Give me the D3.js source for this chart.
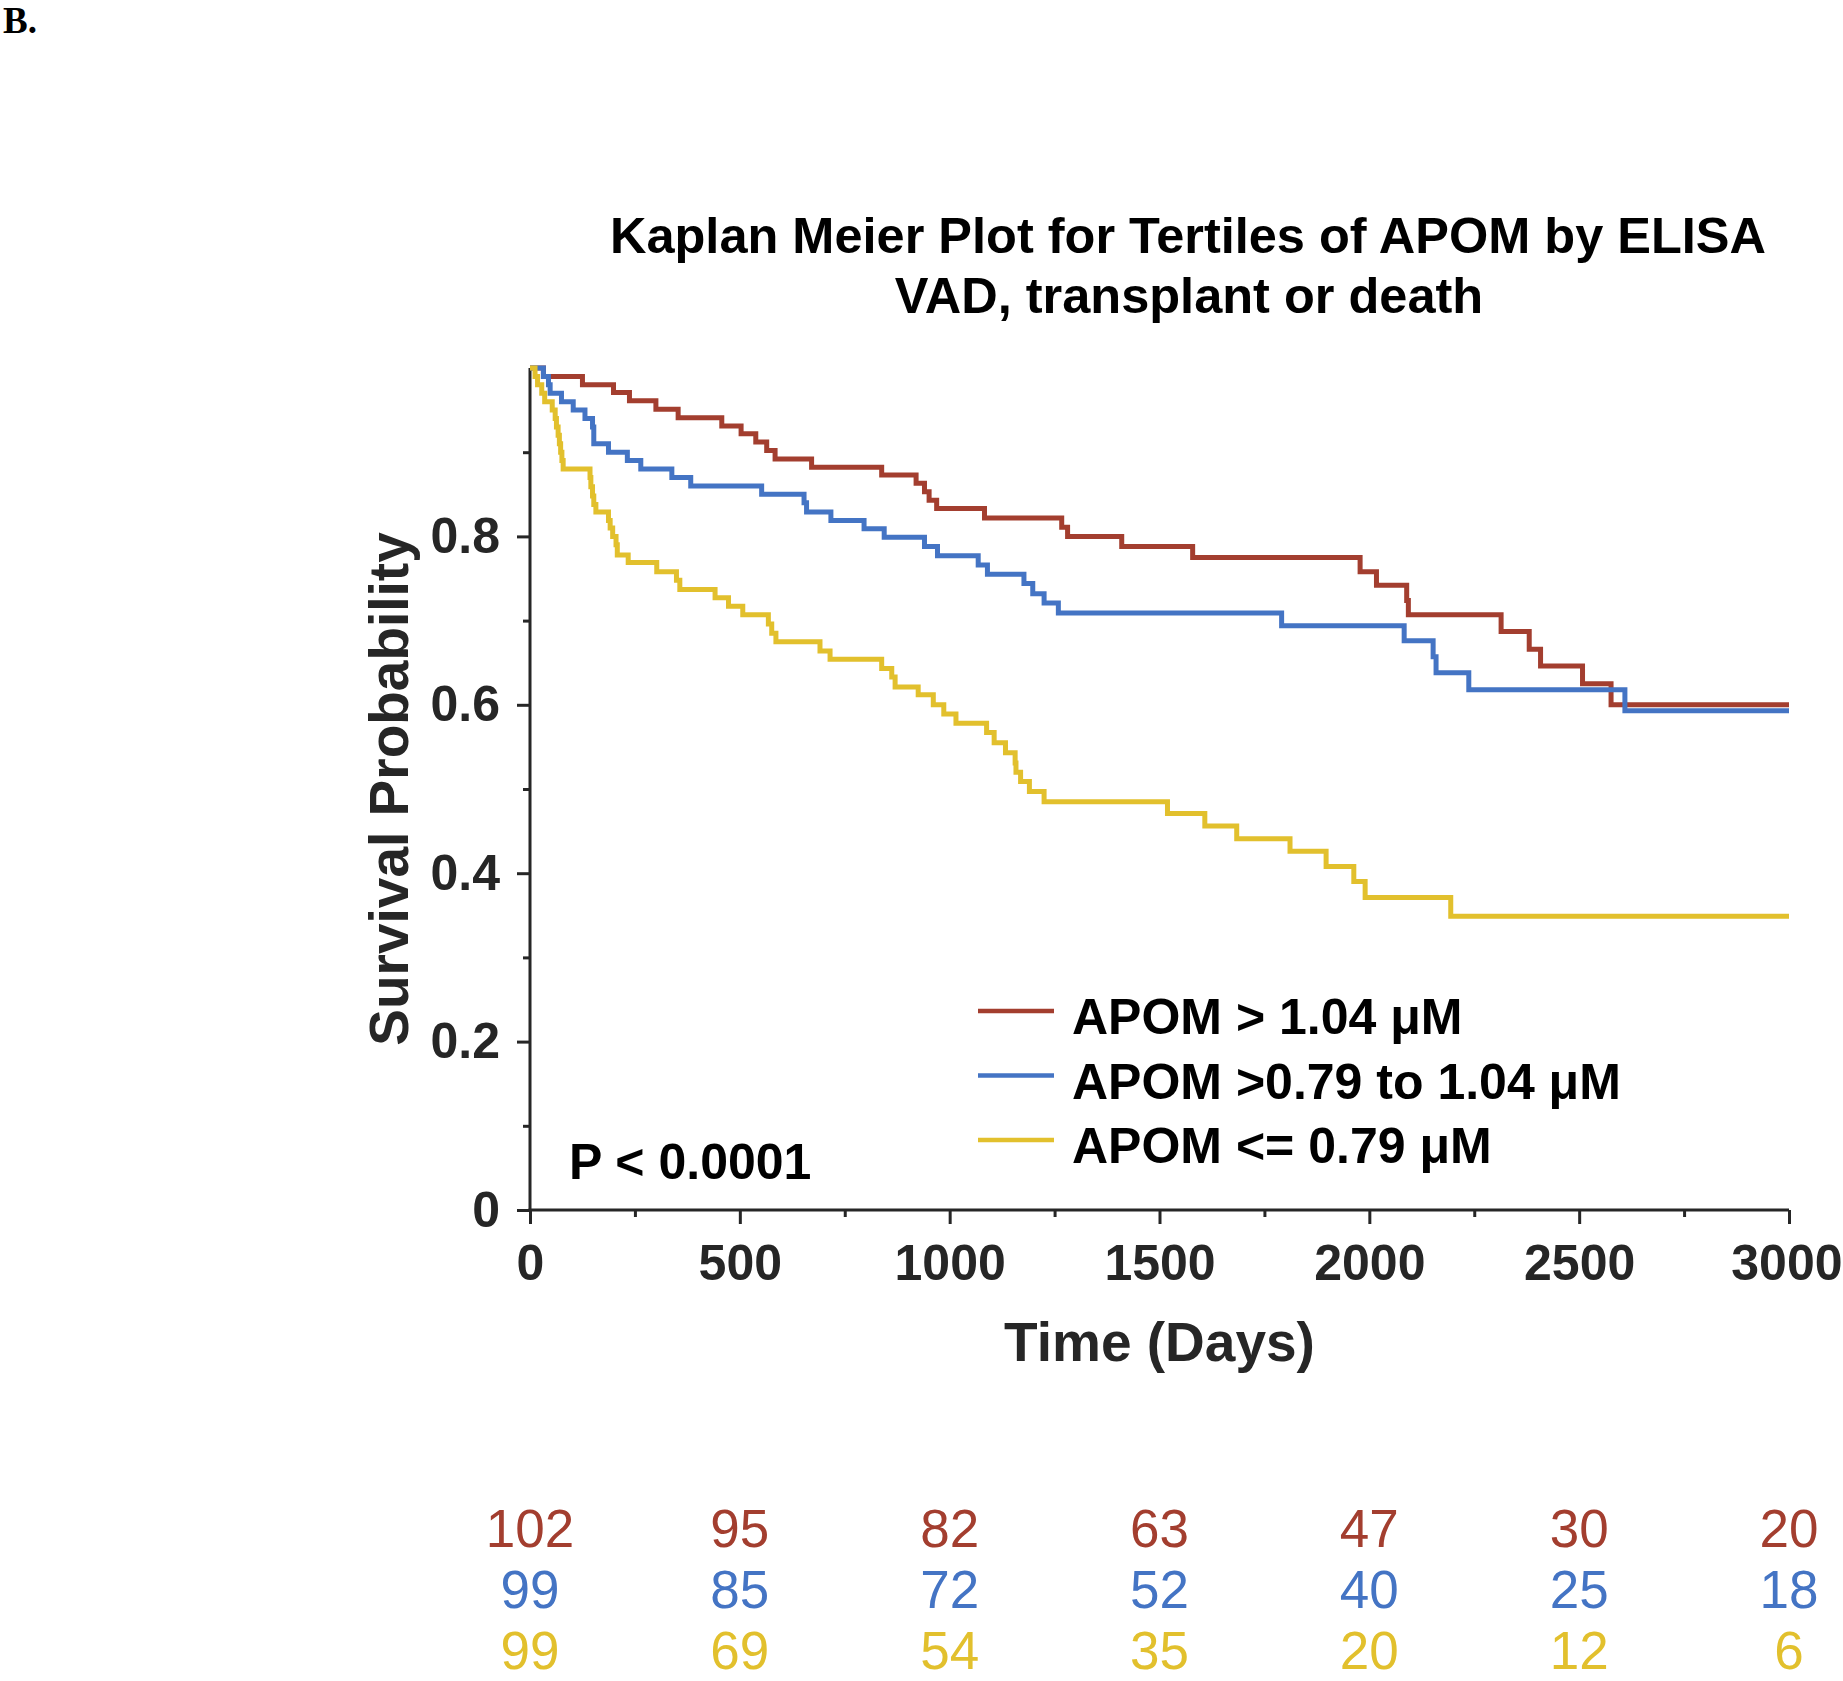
<!DOCTYPE html>
<html>
<head>
<meta charset="utf-8">
<script src="https://cdn.jsdelivr.net/npm/d3@7"></script>
<style>
  html, body { margin: 0; padding: 0; background: #fff; }
  svg { display: block; }
</style>
</head>
<body>
<script>
// ---------- DATA ----------
const xTickValues = [0, 500, 1000, 1500, 2000, 2500, 3000];
const xMinorTicks = [250, 750, 1250, 1750, 2250, 2750];
const yTickValues = [0, 0.2, 0.4, 0.6, 0.8];
const yMinorTicks = [0.1, 0.3, 0.5, 0.7, 0.9];
const yTickLabels = ["0", "0.2", "0.4", "0.6", "0.8"];

const seriesNames = ["APOM > 1.04 \u03BCM", "APOM >0.79 to 1.04 \u03BCM", "APOM <= 0.79 \u03BCM"];

// Kaplan-Meier steps: day of event, survival after event
const highDays = [0, 32, 125, 199, 237, 300, 353, 457, 503, 538, 564, 584, 671, 838, 920, 940, 951, 969,
  1083, 1267, 1281, 1410, 1579, 1978, 2017, 2089, 2093, 2314, 2381, 2408, 2508, 2576, 3000];
const highSurv = [1.0, 0.990, 0.980, 0.971, 0.961, 0.951, 0.941, 0.931, 0.922, 0.912, 0.902, 0.892, 0.882, 0.873, 0.863, 0.853, 0.843, 0.833,
  0.822, 0.811, 0.800, 0.788, 0.775, 0.758, 0.742, 0.724, 0.707, 0.687, 0.666, 0.646, 0.625, 0.600, 0.600];

const midDays = [0, 32, 44, 48, 75, 103, 131, 149, 152, 187, 232, 264, 338, 383, 552, 653, 659, 717, 796, 844,
  940, 971, 1068, 1090, 1177, 1198, 1225, 1259, 1791, 2083, 2152, 2159, 2237, 2609, 3000];
const midSurv = [1.0, 0.990, 0.980, 0.970, 0.960, 0.950, 0.940, 0.930, 0.910, 0.900, 0.890, 0.880, 0.870, 0.860, 0.850, 0.840, 0.829, 0.819, 0.809, 0.799,
  0.788, 0.777, 0.766, 0.755, 0.744, 0.732, 0.721, 0.709, 0.694, 0.676, 0.657, 0.638, 0.618, 0.593, 0.593];

const lowDays = [0, 12, 18, 28, 35, 53, 60, 63, 67, 70, 73, 76, 79, 143, 145, 149, 152, 157, 187, 191, 197, 205, 208,
  234, 302, 349, 357, 441, 473, 507, 568, 576, 586, 691, 715, 838, 862, 870, 925, 961, 986, 1015, 1088, 1106,
  1133, 1156, 1158, 1169, 1190, 1225, 1519, 1608, 1684, 1811, 1897, 1963, 1990, 2194, 3000];
const lowSurv = [1.0, 0.990, 0.980, 0.970, 0.960, 0.950, 0.940, 0.930, 0.920, 0.910, 0.900, 0.890, 0.880, 0.870, 0.859, 0.848, 0.838, 0.829, 0.819, 0.810, 0.800, 0.790, 0.778,
  0.769, 0.758, 0.748, 0.737, 0.727, 0.717, 0.707, 0.696, 0.685, 0.675, 0.664, 0.654, 0.643, 0.633, 0.621, 0.612, 0.600, 0.589, 0.578, 0.567, 0.555,
  0.543, 0.531, 0.520, 0.509, 0.497, 0.485, 0.471, 0.456, 0.441, 0.426, 0.408, 0.390, 0.371, 0.349, 0.349];

const atRiskHigh = [102, 95, 82, 63, 47, 30, 20];
const atRiskMid = [99, 85, 72, 52, 40, 25, 18];
const atRiskLow = [99, 69, 54, 35, 20, 12, 6];

const colors = ["#A33E2F", "#4474C4", "#E2C02D"];

// ---------- LAYOUT ----------
const W = 1843, H = 1681;
const svg = d3.select("body").append("svg").attr("width", W).attr("height", H);
const axisColor = "#262626";
const sans = "'Liberation Sans', Arial, Helvetica, sans-serif";

const x = d3.scaleLinear().domain([0, 3000]).range([530, 1789]);
const y = d3.scaleLinear().domain([0, 1]).range([1210, 368]);

// Panel letter
svg.append("text").attr("x", 3).attr("y", 33)
  .attr("font-family", "'Liberation Serif', 'Times New Roman', serif")
  .attr("font-weight", "bold").attr("font-size", 37).attr("fill", "#000").text("B.");

// Title
const title = svg.append("g").attr("font-family", sans).attr("font-weight", "bold")
  .attr("font-size", 50.5).attr("fill", "#000").attr("text-anchor", "middle");
title.append("text").attr("x", 1188).attr("y", 253).text("Kaplan Meier Plot for Tertiles of APOM by ELISA");
title.append("text").attr("x", 1189).attr("y", 313).text("VAD, transplant or death");

// Axes
function styleAxis(g) {
  g.selectAll("path.domain").remove();
  g.selectAll(".tick line").attr("stroke", axisColor).attr("stroke-width", 3);
  g.selectAll(".tick text").attr("fill", axisColor).attr("font-family", sans)
    .attr("font-weight", "bold").attr("font-size", 50);
}

const yAxis = svg.append("g").attr("transform", "translate(530,0)")
  .call(d3.axisLeft(y).tickValues(yTickValues).tickSize(13).tickPadding(17)
    .tickFormat((d, i) => yTickLabels[i]));
styleAxis(yAxis);

const yMinor = svg.append("g").attr("transform", "translate(530,0)")
  .call(d3.axisLeft(y).tickValues(yMinorTicks).tickSize(7).tickFormat(""));
styleAxis(yMinor);

const xAxis = svg.append("g").attr("transform", "translate(0,1210)")
  .call(d3.axisBottom(x).tickValues(xTickValues).tickSize(14).tickPadding(20)
    .tickFormat(d3.format("d")));
styleAxis(xAxis);
xAxis.selectAll(".tick text").attr("dy", "0.71em");
// keep the last label inside the page edge
xAxis.selectAll(".tick").filter(d => d === 3000).select("text")
  .attr("text-anchor", "end").attr("x", W - 1 - x(3000));

const xMinor = svg.append("g").attr("transform", "translate(0,1210)")
  .call(d3.axisBottom(x).tickValues(xMinorTicks).tickSize(7).tickFormat(""));
styleAxis(xMinor);

// axis lines
svg.append("line").attr("x1", x(0)).attr("x2", x(0)).attr("y1", y(1)).attr("y2", y(0) + 1.5)
  .attr("stroke", axisColor).attr("stroke-width", 3);
svg.append("line").attr("x1", x(0) - 1.5).attr("x2", x(3000)).attr("y1", y(0)).attr("y2", y(0))
  .attr("stroke", axisColor).attr("stroke-width", 3);

// Axis labels
svg.append("text").attr("transform", `translate(408,${(y(0) + y(1)) / 2}) rotate(-90)`)
  .attr("text-anchor", "middle").attr("font-family", sans).attr("font-weight", "bold")
  .attr("font-size", 55).attr("fill", axisColor).text("Survival Probability");
svg.append("text").attr("x", (x(0) + x(3000)) / 2).attr("y", 1361)
  .attr("text-anchor", "middle").attr("font-family", sans).attr("font-weight", "bold")
  .attr("font-size", 55).attr("fill", axisColor).text("Time (Days)");

// Curves
const line = d3.line().x(d => x(d[0])).y(d => y(d[1])).curve(d3.curveStepAfter);
const series = [
  d3.zip(highDays, highSurv),
  d3.zip(midDays, midSurv),
  d3.zip(lowDays, lowSurv)
];
series.forEach((s, i) => {
  svg.append("path").datum(s).attr("d", line).attr("fill", "none")
    .attr("stroke", colors[i]).attr("stroke-width", 5)
    .attr("stroke-linejoin", "miter").attr("stroke-linecap", "butt");
});

// Legend
const legend = svg.append("g");
seriesNames.forEach((name, i) => {
  const ly = 1011 + i * 64.5;
  legend.append("line").attr("x1", 978).attr("x2", 1054).attr("y1", ly).attr("y2", ly)
    .attr("stroke", colors[i]).attr("stroke-width", 4.5);
  legend.append("text").attr("x", 1072).attr("y", ly + 23)
    .attr("font-family", sans).attr("font-weight", "bold").attr("font-size", 50)
    .attr("fill", "#000").text(name);
});

// P value
svg.append("text").attr("x", 569).attr("y", 1179)
  .attr("font-family", sans).attr("font-weight", "bold").attr("font-size", 50)
  .attr("fill", "#000").text("P < 0.0001");

// Numbers at risk
const riskRows = [atRiskHigh, atRiskMid, atRiskLow];
riskRows.forEach((row, r) => {
  svg.append("g").selectAll("text").data(row).join("text")
    .attr("x", (d, i) => x(xTickValues[i]))
    .attr("y", 1547 + r * 61)
    .attr("text-anchor", "middle")
    .attr("font-family", sans).attr("font-size", 53)
    .attr("fill", colors[r]).text(d => d);
});
</script>
</body>
</html>
